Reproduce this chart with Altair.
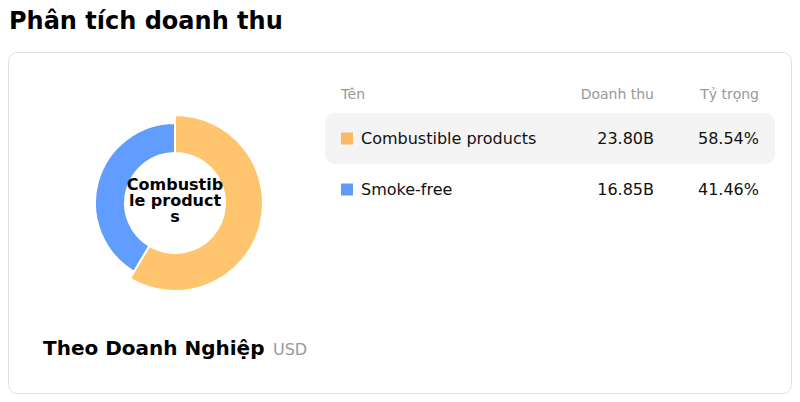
import altair as alt
import pandas as pd

# ---- data ----
names = ["Combustible products", "Smoke-free"]
revenue_b = [23.80, 16.85]          # billions USD
share_pct = [58.54, 41.46]
donut_colors = ["#FFC46E", "#619DFF"]
key_colors = ["#FDB866", "#5E9BFF"]
headers = ["Tên", "Doanh thu", "Tỷ trọng"]
title_text = "Phân tích doanh thu"
subtitle_text = "Theo Doanh Nghiệp"
unit_text = "USD"

df = pd.DataFrame({
    "name": names,
    "revenue": revenue_b,
    "share": share_pct,
    "idx": list(range(len(names))),
})
df["rev_label"] = [f"{v:.2f}B" for v in revenue_b]
df["pct_label"] = [f"{v:.2f}%" for v in share_pct]

top = names[0]
center_lines = [top[0:9], top[9:19], top[19:]]

FONT = "DejaVu Sans"
donut_scale = alt.Scale(domain=names, range=donut_colors)
key_scale = alt.Scale(domain=names, range=key_colors)
y_scale = alt.Scale(domain=names, range=[105, 207], paddingInner=0, paddingOuter=0)

base = alt.Chart(df)
one = pd.DataFrame({"a": [0]})

# card background
card = alt.Chart(one).mark_rect(
    fill="white", stroke="#DEDDEA", strokeWidth=1, cornerRadius=9
).encode(x=alt.value(0.5), x2=alt.value(783.5), y=alt.value(44.5), y2=alt.value(385.5))

title = alt.Chart(pd.DataFrame({"t": [title_text]})).mark_text(
    font=FONT, fontSize=24, fontWeight="bold", align="left", baseline="alphabetic", color="#000"
).encode(text="t:N", x=alt.value(1), y=alt.value(21))

# donut
CX, CY = 167, 195
arcs = base.mark_arc(innerRadius=50, outerRadius=80, stroke="white", strokeWidth=2).encode(
    theta=alt.Theta("revenue:Q", stack=True),
    order=alt.Order("idx:Q"),
    color=alt.Color("name:N", scale=donut_scale, legend=None),
    x=alt.value(CX), y=alt.value(CY),
)
arcs_hl = base.mark_arc(innerRadius=50, outerRadius=88, stroke="white", strokeWidth=2).encode(
    theta=alt.Theta("revenue:Q", stack=True),
    order=alt.Order("idx:Q"),
    color=alt.Color("name:N", scale=donut_scale, legend=None),
    opacity=alt.condition(alt.datum.idx == 0, alt.value(1), alt.value(0)),
    x=alt.value(CX), y=alt.value(CY),
)
center = alt.Chart(one).mark_text(
    font=FONT, fontSize=16, fontWeight="bold", color="#000", align="center",
    baseline="middle", lineHeight=16
).encode(text=alt.value(center_lines), x=alt.value(CX), y=alt.value(CY - 18))

# table header
hdr_df = pd.DataFrame({"h": headers})
def hdr(i, x, align):
    return alt.Chart(hdr_df).transform_filter(alt.datum.h == headers[i]).mark_text(
        font=FONT, fontSize=14, color="#999", align=align, baseline="middle"
    ).encode(text="h:N", x=alt.value(x), y=alt.value(87))

hdr_name = hdr(0, 333, "left")
hdr_rev = hdr(1, 646, "right")
hdr_pct = hdr(2, 751, "right")

# highlighted row
row_hl = base.transform_filter(alt.datum.idx == 0).mark_rect(
    fill="#F4F4F4", cornerRadius=10
).encode(
    y=alt.Y("name:N", scale=y_scale, axis=None),
    x=alt.value(317), x2=alt.value(767),
)

squares = base.mark_square(size=144, opacity=1).encode(
    y=alt.Y("name:N", scale=y_scale, axis=None),
    x=alt.value(339),
    color=alt.Color("name:N", scale=key_scale, legend=None),
)
def col(field, x, align):
    return base.mark_text(font=FONT, fontSize=16, color="#111", align=align, baseline="middle").encode(
        y=alt.Y("name:N", scale=y_scale, axis=None), x=alt.value(x), text=f"{field}:N")

row_name = col("name", 353, "left")
row_rev = col("rev_label", 646, "right")
row_pct = col("pct_label", 751, "right")

# bottom label
sub = alt.Chart(pd.DataFrame({"t": [subtitle_text]})).mark_text(
    font=FONT, fontSize=20, fontWeight="bold", color="#000", align="left", baseline="middle"
).encode(text="t:N", x=alt.value(35), y=alt.value(341))
unit = alt.Chart(pd.DataFrame({"t": [unit_text]})).mark_text(
    font=FONT, fontSize=16, color="#999", align="left", baseline="middle"
).encode(text="t:N", x=alt.value(265), y=alt.value(342))

chart = alt.layer(
    card, title, arcs, arcs_hl, center,
    hdr_name, hdr_rev, hdr_pct, row_hl, squares, row_name, row_rev, row_pct, sub, unit
).resolve_scale(color="independent").properties(
    width=784, height=386, autosize=alt.AutoSizeParams(type="none"), padding=0,
    background="white",
).configure_view(strokeWidth=0, stroke="transparent")

chart.save("out.html", embed_options={"renderer": "svg", "actions": False})
